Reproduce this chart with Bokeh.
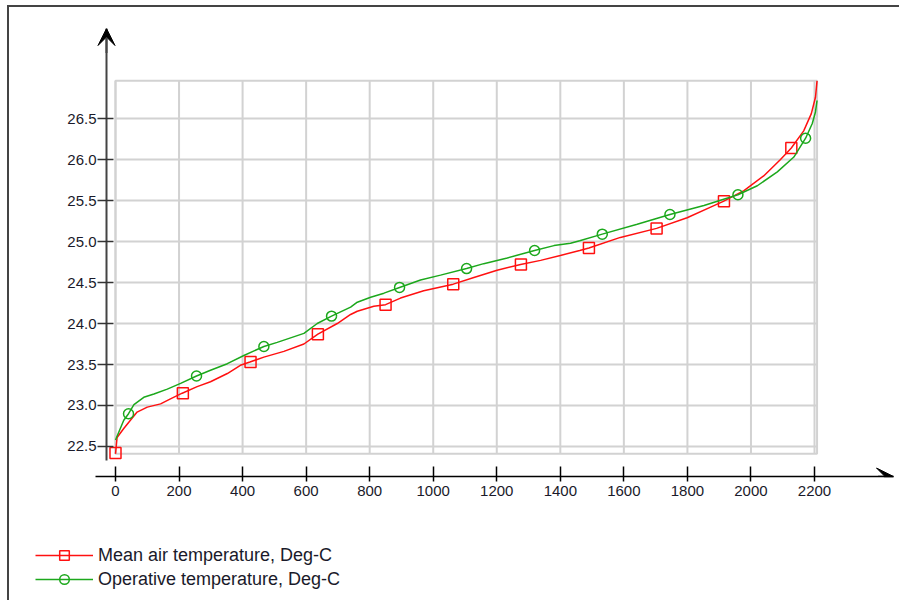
from bokeh.plotting import figure
from bokeh.layouts import column
from bokeh.models import (Range1d, FixedTicker, NumeralTickFormatter, Arrow, VeeHead,
                          Legend, LegendItem)
from bokeh.embed import file_html
from bokeh.resources import INLINE

# ---- data (sorted hourly values) ----
hours_red = [0, 5, 26, 47, 68, 100, 142, 173, 210, 257, 299, 352, 393, 423, 467, 530, 593,
             637, 698, 740, 761, 813, 850, 897, 970, 1063, 1128, 1201, 1275, 1338, 1400,
             1461, 1490, 1589, 1703, 1799, 1873, 1913, 1978, 2040, 2093, 2127, 2166, 2190,
             2203, 2208]
mean_air = [22.41, 22.61, 22.72, 22.82, 22.92, 22.98, 23.02, 23.08, 23.15, 23.23, 23.29,
            23.39, 23.49, 23.53, 23.59, 23.66, 23.75, 23.87, 24.00, 24.11, 24.15, 24.21,
            24.23, 24.31, 24.40, 24.48, 24.56, 24.65, 24.72, 24.77, 24.83, 24.89, 24.92,
            25.05, 25.16, 25.29, 25.42, 25.49, 25.62, 25.80, 26.00, 26.14, 26.35, 26.56,
            26.76, 26.96]

hours_green = [0, 26, 41, 58, 89, 121, 163, 205, 255, 299, 352, 404, 467, 509, 593, 635, 680,
               740, 761, 803, 845, 894, 960, 1023, 1105, 1159, 1233, 1319, 1380, 1432, 1461,
               1532, 1642, 1745, 1852, 1959, 2020, 2083, 2135, 2172, 2193, 2203, 2208]
operative = [22.58, 22.82, 22.90, 23.01, 23.10, 23.14, 23.20, 23.27, 23.36, 23.43, 23.51,
             23.61, 23.72, 23.77, 23.88, 24.00, 24.09, 24.20, 24.26, 24.32, 24.37, 24.44,
             24.53, 24.59, 24.67, 24.73, 24.80, 24.89, 24.95, 24.98, 25.01, 25.09, 25.21,
             25.33, 25.44, 25.57, 25.68, 25.85, 26.03, 26.26, 26.44, 26.58, 26.72]

red_mark_x = [0, 212, 425, 637, 850, 1063, 1276, 1490, 1703, 1915, 2127]
red_mark_y = [22.42, 23.15, 23.53, 23.87, 24.23, 24.48, 24.72, 24.92, 25.16, 25.49, 26.14]
green_mark_x = [41, 255, 467, 680, 894, 1105, 1319, 1532, 1745, 1959, 2172]
green_mark_y = [22.90, 23.36, 23.72, 24.09, 24.44, 24.67, 24.89, 25.09, 25.33, 25.57, 26.26]

x_ticks = [0, 200, 400, 600, 800, 1000, 1200, 1400, 1600, 1800, 2000, 2200]
y_ticks = [22.5, 23.0, 23.5, 24.0, 24.5, 25.0, 25.5, 26.0, 26.5]

labels = ["Mean air temperature, Deg-C", "Operative temperature, Deg-C"]

# ---- layout constants ----
X_RANGE = (-160.5, 2448.6)
Y_RANGE = (22.134, 27.598)
Y_AXIS_AT = -28.3
X_AXIS_FROM = -62.9
Y_AXIS_LOW = 22.33
RED = "#ff1010"
GREEN = "#1ca81c"
GRID = "#d2d2d2"
TXT = "#1a1a2a"
FONT = "Liberation Sans"

p = figure(width=890, height=523, x_range=Range1d(*X_RANGE), y_range=Range1d(*Y_RANGE),
           output_backend="svg", toolbar_location=None,
           min_border_left=55, min_border_right=6, min_border_top=21, min_border_bottom=54)
p.xgrid.visible = False
p.ygrid.visible = False
p.outline_line_color = None
p.background_fill_color = "white"
p.border_fill_color = "white"

# plot box and grid (drawn from data extents and tick values)
all_x = hours_red + hours_green
all_y = mean_air + operative
bx0, bx1 = min(all_x), max(all_x)
by0, by1 = min(all_y), max(all_y)
p.segment(x0=x_ticks, y0=[by0] * len(x_ticks), x1=x_ticks, y1=[by1] * len(x_ticks),
          line_color=GRID, line_width=2)
p.segment(x0=[bx0] * len(y_ticks), y0=y_ticks, x1=[bx1] * len(y_ticks), y1=y_ticks,
          line_color=GRID, line_width=2)
p.quad(left=[bx0], right=[bx1], bottom=[by0], top=[by1], fill_color=None,
       line_color=GRID, line_width=2)

# series
p.line(hours_red, mean_air, line_color=RED, line_width=1.5)
p.scatter(red_mark_x, red_mark_y, marker="square", size=11, fill_color=None,
          line_color=RED, line_width=1.5)
p.line(hours_green, operative, line_color=GREEN, line_width=1.5)
p.scatter(green_mark_x, green_mark_y, marker="circle", size=10, fill_color=None,
          line_color=GREEN, line_width=1.5)

# axes
xa = p.xaxis[0]
xa.bounds = (X_AXIS_FROM, X_RANGE[1])
xa.ticker = FixedTicker(ticks=x_ticks)
xa.axis_line_color = "black"
xa.axis_line_width = 1.5
xa.major_tick_line_color = "black"
xa.major_tick_line_width = 1.5
xa.major_tick_in = 10
xa.major_tick_out = 5
xa.minor_tick_line_color = None
xa.major_label_standoff = 4
xa.major_label_text_font = FONT
xa.major_label_text_font_size = "15px"
xa.major_label_text_color = TXT

ya = p.yaxis[0]
ya.fixed_location = Y_AXIS_AT
ya.bounds = (Y_AXIS_LOW, Y_RANGE[1])
ya.ticker = FixedTicker(ticks=y_ticks)
ya.formatter = NumeralTickFormatter(format="0.0")
ya.axis_line_color = "#444444"
ya.axis_line_width = 2
ya.major_tick_line_color = "#333333"
ya.major_tick_line_width = 1.5
ya.major_tick_in = 7
ya.major_tick_out = 9
ya.minor_tick_line_color = None
ya.major_label_standoff = 1
ya.major_label_text_font = FONT
ya.major_label_text_font_size = "15px"
ya.major_label_text_color = TXT

# arrow heads
p.add_layout(Arrow(end=VeeHead(size=17, fill_color="black", line_color="black"),
                   x_start=Y_AXIS_AT, y_start=27.3, x_end=Y_AXIS_AT, y_end=Y_RANGE[1],
                   line_color="#444444", line_width=2))
p.add_layout(Arrow(end=VeeHead(size=17, fill_color="black", line_color="black"),
                   x_start=2400, y_start=Y_RANGE[0], x_end=X_RANGE[1], y_end=Y_RANGE[0],
                   line_color="black", line_width=1.5))

# legend strip below the chart (its renderers use the same series, outside its view)
lg = figure(width=890, height=70, x_range=Range1d(0, 1), y_range=Range1d(0, 1),
            output_backend="svg", toolbar_location=None,
            x_axis_location=None, y_axis_location=None,
            min_border_left=0, min_border_right=0, min_border_top=0, min_border_bottom=0)
lg.xgrid.visible = False
lg.ygrid.visible = False
lg.outline_line_color = None
lr_line = lg.line(hours_red, mean_air, line_color=RED, line_width=1.5)
lr_mark = lg.scatter(red_mark_x, red_mark_y, marker="square", size=11, fill_color=None,
                     line_color=RED, line_width=1.5)
lgr_line = lg.line(hours_green, operative, line_color=GREEN, line_width=1.5)
lgr_mark = lg.scatter(green_mark_x, green_mark_y, marker="circle", size=10, fill_color=None,
                      line_color=GREEN, line_width=1.5)

aligned = True
for fig in (p, lg):
    if "frame_align" in fig.properties():
        fig.frame_align = False
        aligned = False
legend_x = 26 - (55 if aligned else 0)

legend = Legend(items=[LegendItem(label=labels[0], renderers=[lr_line, lr_mark]),
                       LegendItem(label=labels[1], renderers=[lgr_line, lgr_mark])],
                location=(legend_x, 9), padding=0, margin=0, spacing=0,
                glyph_width=58, glyph_height=24, label_height=24, label_standoff=5,
                border_line_alpha=0, background_fill_alpha=0,
                label_text_font=FONT, label_text_font_size="18px", label_text_color=TXT)
lg.add_layout(legend, "center")

layout = column(p, lg, spacing=0)
layout.styles = {"border-top": "2px solid #444444", "border-left": "2px solid #444444",
                 "margin-left": "7px", "margin-top": "5px"}

open("out.html", "w").write(file_html(layout, INLINE))
